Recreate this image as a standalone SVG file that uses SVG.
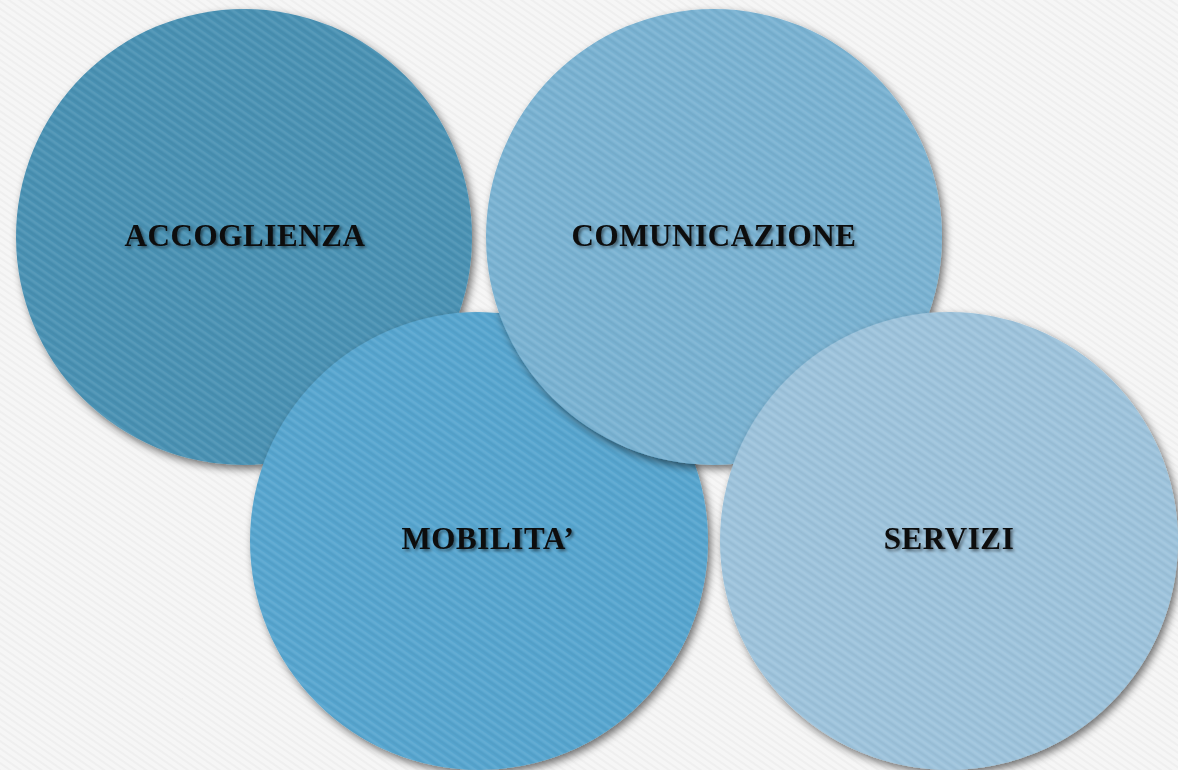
<svg xmlns="http://www.w3.org/2000/svg" width="1178" height="770" viewBox="0 0 1178 770">
<defs>
<pattern id="stripes" width="7" height="7" patternUnits="userSpaceOnUse" patternTransform="rotate(35)">
<rect width="7" height="2.5" fill="#ffffff" opacity="0.08"/>
<rect y="3.5" width="7" height="2" fill="#000000" opacity="0.04"/>
</pattern>
<pattern id="bgtex" width="6" height="6" patternUnits="userSpaceOnUse" patternTransform="rotate(35)">
<rect width="6" height="2" fill="#e8e8e8" opacity="0.5"/>
</pattern>
<filter id="shadow" x="-20%" y="-20%" width="140%" height="140%">
<feGaussianBlur in="SourceAlpha" stdDeviation="4"/>
<feOffset dx="3" dy="4" result="b"/>
<feComponentTransfer><feFuncA type="linear" slope="0.55"/></feComponentTransfer>
<feMerge><feMergeNode/><feMergeNode in="SourceGraphic"/></feMerge>
</filter>
<filter id="tshadow" x="-10%" y="-30%" width="120%" height="160%">
<feGaussianBlur in="SourceAlpha" stdDeviation="1.5"/>
<feOffset dx="2" dy="2"/>
<feComponentTransfer><feFuncA type="linear" slope="0.5"/></feComponentTransfer>
<feMerge><feMergeNode/><feMergeNode in="SourceGraphic"/></feMerge>
</filter>
</defs>
<style>
.lbl{font-family:"Liberation Serif","Times New Roman",serif;font-weight:bold;font-size:31px;letter-spacing:0.6px;fill:#0a0a0a;text-anchor:middle;filter:url(#tshadow)}
.tex{fill:url(#stripes)}
</style>
<rect width="1178" height="770" fill="#f6f6f6"/>
<rect width="1178" height="770" fill="url(#bgtex)"/>
<g id="accoglienza">
<circle cx="244" cy="237" r="228" fill="#4a91b3" filter="url(#shadow)"/>
<circle cx="244" cy="237" r="228" class="tex"/>
<text x="245" y="246" class="lbl">ACCOGLIENZA</text>
</g>
<g id="mobilita">
<circle cx="479" cy="541" r="229" fill="#57a5cf" filter="url(#shadow)"/>
<circle cx="479" cy="541" r="229" class="tex"/>
<text x="488" y="549" class="lbl">MOBILITA’</text>
</g>
<g id="comunicazione">
<circle cx="714" cy="237" r="228" fill="#79b2d2" filter="url(#shadow)"/>
<circle cx="714" cy="237" r="228" class="tex"/>
<text x="714" y="246" class="lbl">COMUNICAZIONE</text>
</g>
<g id="servizi">
<circle cx="949" cy="541" r="229" fill="#9dc3dc" filter="url(#shadow)"/>
<circle cx="949" cy="541" r="229" class="tex"/>
<text x="949" y="549" class="lbl">SERVIZI</text>
</g>
<g id="connectors"/>
</svg>
